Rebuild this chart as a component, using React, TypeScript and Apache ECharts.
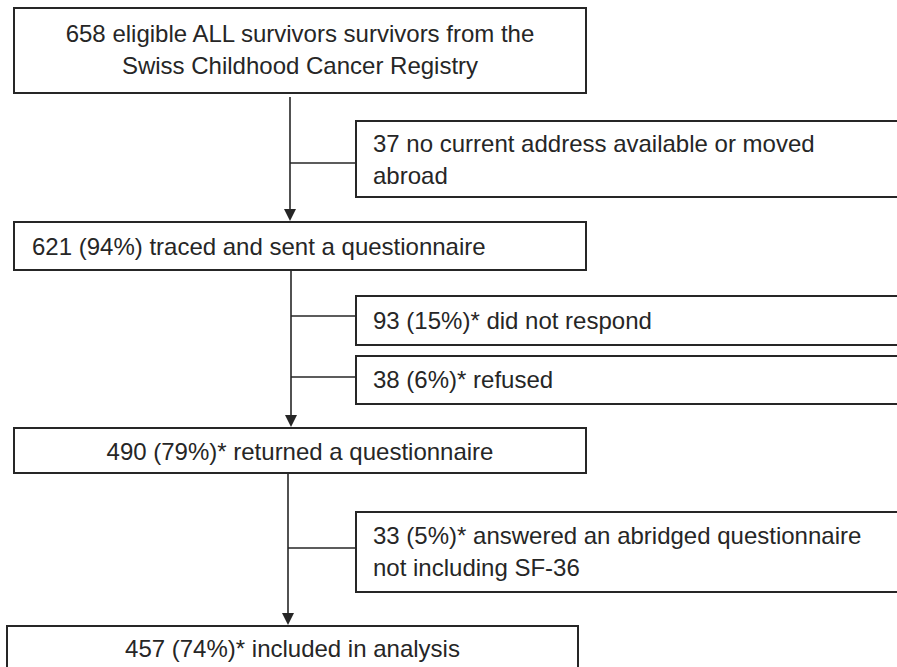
import React, { useEffect, useRef } from "react";
import * as echarts from "echarts";

// ---- Data ----
const mainCounts = [658, 621, 490, 457];
const mainPercents: (number | null)[] = [null, 94, 79, 74];
const mainStarred = [false, false, true, true];
const mainDescriptions = [
  "eligible ALL survivors survivors from the\nSwiss Childhood Cancer Registry",
  "traced and sent a questionnaire",
  "returned a questionnaire",
  "included in analysis",
];

const excludedCounts = [37, 93, 38, 33];
const excludedPercents: (number | null)[] = [null, 15, 6, 5];
const excludedStarred = [false, true, true, true];
const excludedDescriptions = [
  "no current address available or moved\nabroad",
  "did not respond",
  "refused",
  "answered an abridged questionnaire\nnot including SF-36",
];

// which trunk segment each exclusion hangs from
const excludedStep = [0, 1, 1, 2];

// ---- Layout (positions / sizes) ----
const mainLayout = [
  { x: 14, y: 8, w: 572, h: 85, textY: 49, align: "center" },
  { x: 14, y: 222, w: 572, h: 48, textY: 246, align: "left" },
  { x: 14, y: 428, w: 572, h: 45, textY: 451, align: "center" },
  { x: 7, y: 626, w: 571, h: 70, textY: 648, align: "center" },
];
const sideLayout = [
  { y: 121, h: 76, textY: 159, branchY: 163 },
  { y: 296, h: 49, textY: 320, branchY: 316 },
  { y: 356, h: 48, textY: 379, branchY: 377 },
  { y: 512, h: 80, textY: 551, branchY: 548 },
];
const trunk = [
  { x: 290, y1: 97, tip: 221 },
  { x: 291, y1: 270, tip: 427 },
  { x: 288, y1: 473, tip: 625 },
];
const SIDE_X = 356;
const SIDE_W = 620;
const SIDE_TEXT_X = 373;
const MAIN_TEXT_LEFT = 32;

const INK = "#262626";
const FONT_FAMILY = '"Liberation Sans", Arial, Helvetica, sans-serif';
const FONT_SIZE = 24;

function label(count: number, pct: number | null, star: boolean, desc: string) {
  const p = pct == null ? "" : ` (${pct}%)${star ? "*" : ""}`;
  return `${count}${p} ${desc}`;
}

export default function App() {
  const ref = useRef<HTMLDivElement>(null);
  useEffect(() => {
    if (!ref.current) return;
    const chart = echarts.init(ref.current, null, { renderer: "svg" });
    const elements: any[] = [];

    // trunk lines + arrows
    trunk.forEach((t) => {
      elements.push({
        type: "line",
        shape: { x1: t.x, y1: t.y1, x2: t.x, y2: t.tip - 10 },
        style: { stroke: INK, lineWidth: 1.6 },
      });
      elements.push({
        type: "polygon",
        shape: {
          points: [
            [t.x - 6, t.tip - 12],
            [t.x + 6, t.tip - 12],
            [t.x, t.tip],
          ],
        },
        style: { fill: INK },
      });
    });

    // branches
    sideLayout.forEach((s, i) => {
      const t = trunk[excludedStep[i]];
      elements.push({
        type: "line",
        shape: { x1: t.x, y1: s.branchY, x2: SIDE_X, y2: s.branchY },
        style: { stroke: INK, lineWidth: 1.6 },
      });
    });

    // main boxes
    mainLayout.forEach((b, i) => {
      elements.push({
        type: "rect",
        shape: { x: b.x, y: b.y, width: b.w, height: b.h },
        style: { fill: "#fff", stroke: INK, lineWidth: 2 },
      });
      const txt = label(mainCounts[i], mainPercents[i], mainStarred[i], mainDescriptions[i]);
      const isCenter = b.align === "center";
      elements.push({
        type: "text",
        style: {
          text: txt,
          x: isCenter ? b.x + b.w / 2 : MAIN_TEXT_LEFT,
          y: b.textY,
          fill: INK,
          fontSize: FONT_SIZE,
          fontFamily: FONT_FAMILY,
          lineHeight: 32,
          align: isCenter ? "center" : "left",
          textAlign: isCenter ? "center" : "left",
          verticalAlign: "middle",
          textVerticalAlign: "middle",
        },
      });
    });

    // side boxes
    sideLayout.forEach((s, i) => {
      elements.push({
        type: "rect",
        shape: { x: SIDE_X, y: s.y, width: SIDE_W, height: s.h },
        style: { fill: "#fff", stroke: INK, lineWidth: 2 },
      });
      const txt = label(excludedCounts[i], excludedPercents[i], excludedStarred[i], excludedDescriptions[i]);
      elements.push({
        type: "text",
        style: {
          text: txt,
          x: SIDE_TEXT_X,
          y: s.textY,
          fill: INK,
          fontSize: FONT_SIZE,
          fontFamily: FONT_FAMILY,
          lineHeight: 32,
          align: "left",
          textAlign: "left",
          verticalAlign: "middle",
          textVerticalAlign: "middle",
        },
      });
    });

    chart.setOption({
      animation: false,
      backgroundColor: "#ffffff",
      graphic: { elements },
    });
    return () => chart.dispose();
  }, []);

  return (
    <div
      ref={ref}
      style={{ position: "absolute", left: 0, top: 0, width: 897, height: 667, background: "#fff" }}
    />
  );
}
